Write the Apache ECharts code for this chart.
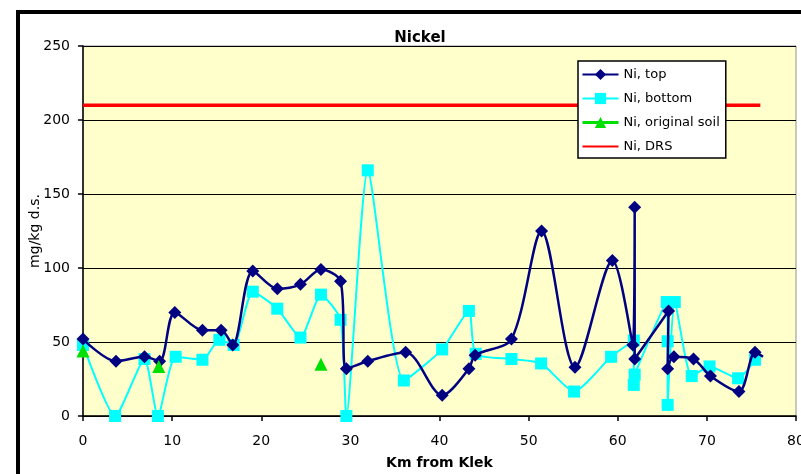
<!DOCTYPE html>
<html>
<head>
<meta charset="utf-8">
<script src="https://cdn.jsdelivr.net/npm/echarts@6/dist/echarts.min.js"></script>
<style>html,body{margin:0;padding:0;background:#fff}#c{width:801px;height:474px}</style>
</head>
<body>
<div id="c"></div>
<script>
// Data
const topKm  = [0, 3.7, 6.9, 8.6, 10.3, 13.4, 15.5, 16.8, 19.05, 21.8, 24.4, 26.7, 28.9, 29.55, 31.95, 36.2, 40.3, 43.3, 44.0, 48.07, 51.45, 55.2, 59.4, 61.7, 61.9, 61.9, 65.7, 65.6, 66.3, 68.5, 70.4, 73.6, 75.4, 76.3];
const topVal = [52, 37, 40, 37, 70, 58, 58, 48, 98, 86, 89, 99, 91, 32, 37, 43, 14, 32, 41, 52, 125, 33, 105, 48, 141, 38.5, 71, 32, 40, 38.5, 27, 16.5, 43, 40];
const botKm  = [0, 3.6, 6.9, 8.4, 10.4, 13.4, 15.3, 16.9, 19.05, 21.8, 24.4, 26.7, 28.9, 29.55, 31.95, 36.0, 40.3, 43.3, 44.06, 48.07, 51.4, 55.1, 59.25, 61.8, 61.8, 61.9, 65.5, 65.6, 65.6, 66.4, 68.3, 70.3, 73.5, 75.4];
const botVal = [48, 0, 38.5, 0, 40, 38, 51.5, 48, 84, 72.5, 53, 82, 65, 0, 166, 24, 45, 71, 42, 38.5, 35.5, 16.5, 40, 51, 21, 28, 77, 50.5, 7.5, 77, 27, 33.5, 25.5, 38];
const soilKm  = [0, 8.5, 26.7];
const soilVal = [44, 33.5, 35];
const drsKm  = [0, 76];
const drsVal = [210, 210];
const seriesNames = ['Ni, top', 'Ni, bottom', 'Ni, original soil', 'Ni, DRS'];
const xTicks = {min: 0, max: 80, interval: 10};
const yTicks = {min: 0, max: 250, interval: 50};

const pairs = (xs, ys) => xs.map((x, i) => [x, ys[i]]);
const FONT = 'DejaVu Sans, Verdana, sans-serif';

const chart = echarts.init(document.getElementById('c'), null, {renderer: 'canvas'});
chart.setOption({
  backgroundColor: '#ffffff',
  animation: false,
  textStyle: {fontFamily: FONT},
  graphic: [{
    type: 'rect', z: -10, silent: true,
    shape: {x: 18, y: 12, width: 820, height: 500},
    style: {fill: 'none', stroke: '#000', lineWidth: 4}
  }],
  title: {
    text: 'Nickel', left: 415, top: 26, textAlign: 'center',
    textStyle: {fontSize: 15, fontWeight: 'bold', color: '#000', fontFamily: FONT}
  },
  grid: {
    left: 83, right: 5, top: 46, bottom: 58,
    outerBoundsMode: 'none', containLabel: false,
    show: true, backgroundColor: '#ffffcc', borderColor: '#909090', borderWidth: 1
  },
  legend: {
    orient: 'vertical', left: 578, top: 61,
    backgroundColor: '#ffffff', borderColor: '#000', borderWidth: 1.5,
    padding: [7, 6, 5, 3], itemGap: 11, itemWidth: 36, itemHeight: 14,
    textStyle: {fontSize: 13, color: '#000', fontFamily: FONT},
    data: [
      {name: seriesNames[0]},
      {name: seriesNames[1]},
      {name: seriesNames[2], lineStyle: {color: '#00e000', width: 3, opacity: 1}},
      {name: seriesNames[3], itemStyle: {opacity: 0}}
    ]
  },
  xAxis: {
    type: 'value', min: xTicks.min, max: xTicks.max, interval: xTicks.interval,
    name: 'Km from Klek', nameLocation: 'middle', nameGap: 40, nameMoveOverlap: false,
    nameTextStyle: {fontSize: 14, fontWeight: 'bold', color: '#000', fontFamily: FONT},
    axisLine: {show: true, onZero: false, lineStyle: {color: '#000', width: 1.5}},
    axisTick: {show: true, length: 5, lineStyle: {color: '#000', width: 1.5}},
    axisLabel: {fontSize: 14, color: '#000', margin: 18},
    splitLine: {show: false}
  },
  yAxis: {
    type: 'value', min: yTicks.min, max: yTicks.max, interval: yTicks.interval,
    name: 'mg/kg d.s.', nameLocation: 'middle', nameGap: 41, nameMoveOverlap: false,
    nameTextStyle: {fontSize: 14, color: '#000', fontFamily: FONT},
    axisLine: {show: true, lineStyle: {color: '#000', width: 1.5}},
    axisTick: {show: true, length: 5, lineStyle: {color: '#000', width: 1.5}},
    axisLabel: {fontSize: 14, color: '#000', margin: 13},
    splitLine: {show: true, lineStyle: {color: '#000', width: 1.2}}
  },
  series: [
    {
      name: seriesNames[3], type: 'line', data: pairs(drsKm, drsVal), symbol: 'none',
      lineStyle: {color: '#ff0000', width: 3.5}, itemStyle: {color: '#ff0000'}, z: 2
    },
    {
      name: seriesNames[1], type: 'line', data: pairs(botKm, botVal),
      symbol: 'rect', symbolSize: 12, smooth: 0.2,
      lineStyle: {color: '#00ffff', width: 2}, itemStyle: {color: '#00ffff'}, z: 3
    },
    {
      name: seriesNames[0], type: 'line', data: pairs(topKm, topVal),
      symbol: 'diamond', smooth: 0.3,
      symbolSize: (v, p) => (p.dataIndex === topKm.length - 1 ? 0 : 13),
      lineStyle: {color: '#000080', width: 2.5}, itemStyle: {color: '#000080'}, z: 4
    },
    {
      name: seriesNames[2], type: 'line', data: pairs(soilKm, soilVal),
      symbol: 'triangle', symbolSize: 13,
      lineStyle: {width: 0, opacity: 0}, itemStyle: {color: '#00e000'}, z: 5
    }
  ]
});
</script>
</body>
</html>
